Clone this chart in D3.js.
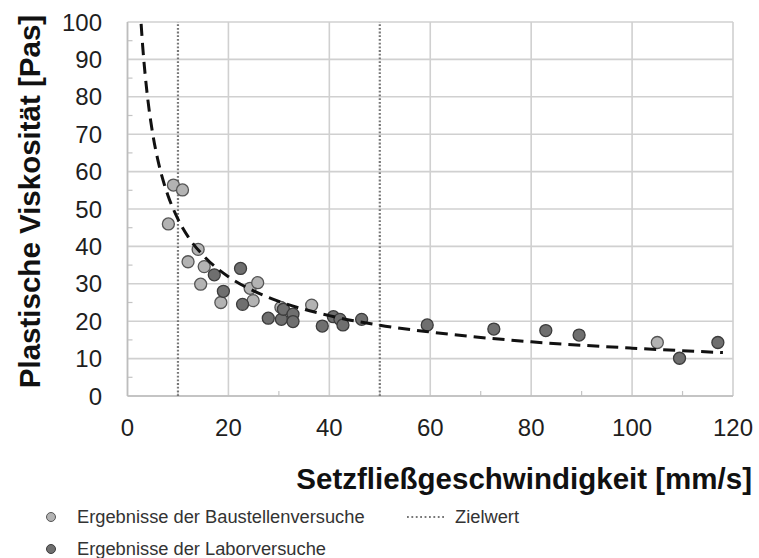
<!DOCTYPE html>
<html>
<head>
<meta charset="utf-8">
<script src="https://cdn.jsdelivr.net/npm/d3@7"></script>
<style>
  html, body { margin: 0; padding: 0; background: #fff; }
  svg { display: block; font-family: "Liberation Sans", Arial, sans-serif; }
</style>
</head>
<body>
<svg id="chart" width="759" height="558"></svg>
<script>
// Baustellenversuche (site tests)
const siteX = [8.1, 9.1, 10.9, 12.0, 14.0, 14.5, 15.2, 18.5, 24.3, 24.9, 25.8, 30.4, 36.5, 105.0];
const siteY = [46.0, 56.4, 55.1, 35.9, 39.2, 29.9, 34.6, 25.0, 28.8, 25.5, 30.3, 23.7, 24.3, 14.3];

// Laborversuche (lab tests)
const labX = [17.2, 19.0, 22.4, 22.8, 27.9, 30.5, 30.9, 32.8, 32.8, 38.6, 40.8, 42.1, 42.7, 46.4, 59.4, 72.6, 82.9, 89.5, 109.4, 117.0];
const labY = [32.4, 28.0, 34.1, 24.5, 20.8, 20.5, 23.2, 21.9, 19.9, 18.7, 21.2, 20.5, 19.0, 20.5, 19.0, 17.9, 17.5, 16.3, 10.1, 14.3];

// Trend curve (power fit), sampled points
const trendX = [2.7, 3, 3.5, 4, 5, 6, 7, 8, 10, 12, 15, 20, 25, 30, 40, 50, 60, 80, 100, 118];
const trendY = [99.5, 93.7, 85.9, 79.6, 70.1, 63.2, 57.9, 53.7, 47.3, 42.6, 37.6, 31.9, 28.1, 25.3, 21.5, 18.9, 17.1, 14.5, 12.8, 11.6];

// Target values (Zielwert)
const targetX = [10, 50];

const xTicks = [0, 20, 40, 60, 80, 100, 120];
const yTicks = [0, 10, 20, 30, 40, 50, 60, 70, 80, 90, 100];
const xMinor = [10, 30, 50, 70, 90, 110];
const yMinor = [5, 15, 25, 35, 45, 55, 65, 75, 85, 95];

const xTitle = "Setzfließgeschwindigkeit [mm/s]";
const yTitle = "Plastische Viskosität [Pas]";
const legendSite = "Ergebnisse der Baustellenversuche";
const legendLab = "Ergebnisse der Laborversuche";
const legendTarget = "Zielwert";

const svg = d3.select("#chart");
const x = d3.scaleLinear().domain([0, 120]).range([127.5, 733]);
const y = d3.scaleLinear().domain([0, 100]).range([396, 22]);

const gridColor = "#d0d0d0";
const siteFill = "#b3b3b3", siteStroke = "#555";
const labFill = "#6f6f6f", labStroke = "#3c3c3c";

// gridlines
svg.append("g").selectAll("line.h").data(yTicks).join("line")
  .attr("x1", x(0)).attr("x2", x(120))
  .attr("y1", d => y(d)).attr("y2", d => y(d))
  .attr("stroke", gridColor).attr("stroke-width", 1.6);
svg.append("g").selectAll("line.v").data(xTicks).join("line")
  .attr("y1", y(0)).attr("y2", y(100))
  .attr("x1", d => x(d)).attr("x2", d => x(d))
  .attr("stroke", gridColor).attr("stroke-width", 1.6);

// minor ticks
svg.append("g").selectAll("line").data(yMinor).join("line")
  .attr("x1", x(0)).attr("x2", x(0) + 5)
  .attr("y1", d => y(d)).attr("y2", d => y(d))
  .attr("stroke", "#c4c4c4").attr("stroke-width", 1.2);
svg.append("g").selectAll("line").data(xMinor).join("line")
  .attr("y1", y(0)).attr("y2", y(0) - 5)
  .attr("x1", d => x(d)).attr("x2", d => x(d))
  .attr("stroke", "#c4c4c4").attr("stroke-width", 1.2);

// axis lines
svg.append("line").attr("x1", x(0)).attr("x2", x(0)).attr("y1", y(0)).attr("y2", y(100))
  .attr("stroke", "#bdbdbd").attr("stroke-width", 1.5);
svg.append("line").attr("x1", x(0)).attr("x2", x(120)).attr("y1", y(0)).attr("y2", y(0))
  .attr("stroke", "#bdbdbd").attr("stroke-width", 1.5);

// tick labels
svg.append("g").selectAll("text").data(yTicks).join("text")
  .attr("x", 102).attr("y", d => y(d)).attr("dy", "0.36em")
  .attr("text-anchor", "end").attr("font-size", 24).attr("fill", "#1e1e1e")
  .text(d => d);
svg.append("g").selectAll("text").data(xTicks).join("text")
  .attr("x", d => x(d)).attr("y", 436)
  .attr("text-anchor", "middle").attr("font-size", 24).attr("fill", "#1e1e1e")
  .text(d => d);

// target lines
svg.append("g").selectAll("line").data(targetX).join("line")
  .attr("x1", d => x(d)).attr("x2", d => x(d))
  .attr("y1", y(0)).attr("y2", y(100))
  .attr("stroke", "#777").attr("stroke-width", 2.2)
  .attr("stroke-dasharray", "1.8,1.9");

// points
const site = siteX.map((v, i) => ({ x: v, y: siteY[i] }));
const lab = labX.map((v, i) => ({ x: v, y: labY[i] }));
svg.append("g").selectAll("circle").data(site).join("circle")
  .attr("cx", d => x(d.x)).attr("cy", d => y(d.y)).attr("r", 6)
  .attr("fill", siteFill).attr("stroke", siteStroke).attr("stroke-width", 1.3);
svg.append("g").selectAll("circle").data(lab).join("circle")
  .attr("cx", d => x(d.x)).attr("cy", d => y(d.y)).attr("r", 6)
  .attr("fill", labFill).attr("stroke", labStroke).attr("stroke-width", 1.3);

// trend curve
const trend = trendX.map((v, i) => ({ x: v, y: trendY[i] }));
svg.append("path").datum(trend)
  .attr("d", d3.line().x(d => x(d.x)).y(d => y(d.y)).curve(d3.curveMonotoneX))
  .attr("fill", "none").attr("stroke", "#111").attr("stroke-width", 3)
  .attr("stroke-dasharray", "12,7");

// axis titles
svg.append("text").attr("x", 752).attr("y", 489).attr("text-anchor", "end")
  .attr("font-size", 29.5).attr("font-weight", "bold").attr("fill", "#111")
  .text(xTitle);
svg.append("text").attr("transform", `translate(40,${(15 + 388) / 2}) rotate(-90)`)
  .attr("text-anchor", "middle")
  .attr("font-size", 29.5).attr("font-weight", "bold").attr("fill", "#111")
  .text(yTitle);

// legend
const lg = svg.append("g");
lg.append("circle").attr("cx", 51).attr("cy", 517).attr("r", 4.5)
  .attr("fill", siteFill).attr("stroke", siteStroke).attr("stroke-width", 1);
lg.append("text").attr("x", 77).attr("y", 523).attr("font-size", 18.3).attr("fill", "#333").text(legendSite);
lg.append("circle").attr("cx", 51).attr("cy", 549).attr("r", 4.5)
  .attr("fill", labFill).attr("stroke", labStroke).attr("stroke-width", 1);
lg.append("text").attr("x", 77).attr("y", 555).attr("font-size", 18.3).attr("fill", "#333").text(legendLab);
lg.append("line").attr("x1", 407).attr("x2", 446).attr("y1", 517).attr("y2", 517)
  .attr("stroke", "#777").attr("stroke-width", 2).attr("stroke-dasharray", "1.8,2.6");
lg.append("text").attr("x", 455).attr("y", 523).attr("font-size", 18.3).attr("fill", "#333").text(legendTarget);
</script>
</body>
</html>
